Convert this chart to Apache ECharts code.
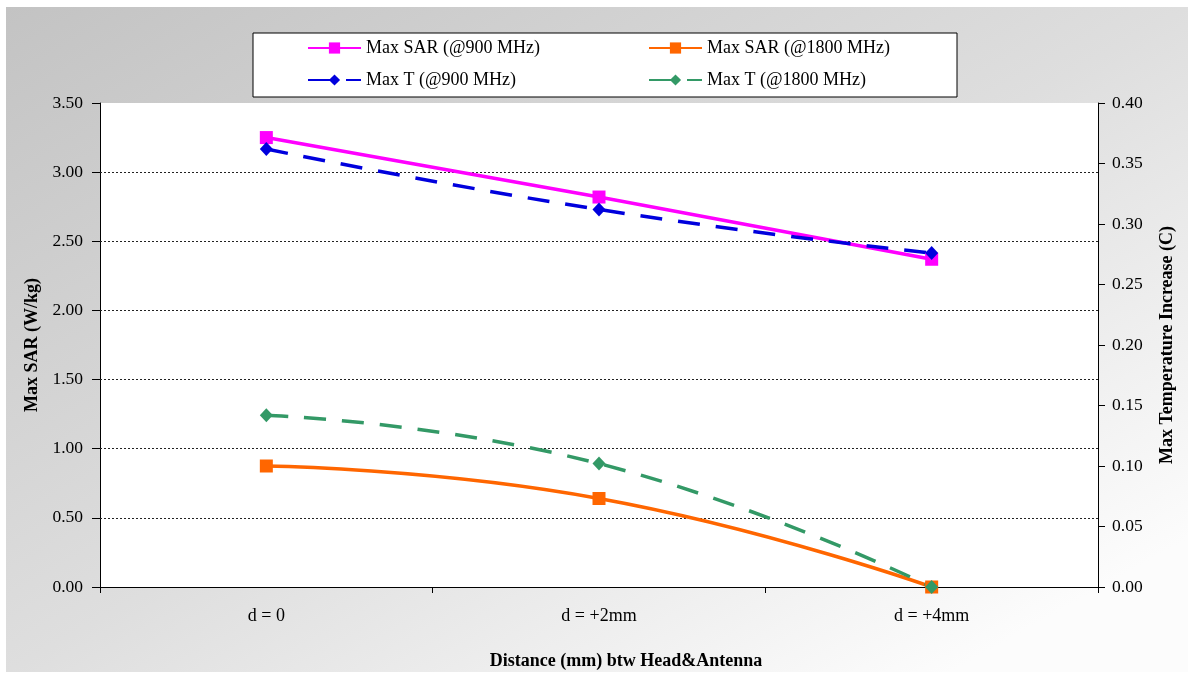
<!DOCTYPE html>
<html>
<head>
<meta charset="utf-8">
<script src="https://cdn.jsdelivr.net/npm/echarts@6/dist/echarts.min.js"></script>
<style>
  html, body { margin: 0; padding: 0; background: #ffffff; }
  #panel {
    position: absolute; left: 6px; top: 7px; width: 1182px; height: 665px;
    background: linear-gradient(to bottom right, #c3c3c3 0%, #dedede 50%, #fcfcfc 90%);
  }
  #chart { position: absolute; left: 0; top: 0; width: 1188px; height: 675px; }
</style>
</head>
<body>
<div id="panel"></div>
<div id="chart"></div>
<script>
// Distance between head and antenna
const categories = ['d = 0', 'd = +2mm', 'd = +4mm'];

// Peak SAR (W/kg)
const sar900 = [3.25, 2.82, 2.37];
const sar1800 = [0.875, 0.64, 0.0];

// Peak temperature rise (C)
const temp900 = [0.362, 0.312, 0.276];
const temp1800 = [0.142, 0.102, 0.0];

// Left-axis gridline levels
const sarGridLevels = [0.5, 1.0, 1.5, 2.0, 2.5, 3.0];

const FONT = 'Liberation Serif';

const chart = echarts.init(document.getElementById('chart'), null, { renderer: 'canvas' });

function lineSeries(name, data, color, axis, symbol, symbolSize, dashed) {
  return {
    name: name,
    type: 'line',
    yAxisIndex: axis,
    data: data,
    smooth: 0.5,
    symbol: symbol,
    symbolSize: symbolSize,
    showAllSymbol: true,
    itemStyle: { color: color },
    lineStyle: {
      color: color,
      width: 3.5,
      type: dashed ? [22, 16] : 'solid'
    },
    z: 3
  };
}

const series = [
  lineSeries('Max SAR (@900 MHz)', sar900, '#ff00ff', 0, 'rect', 13, false),
  lineSeries('Max SAR (@1800 MHz)', sar1800, '#ff6600', 0, 'rect', 13, false),
  lineSeries('Max T (@900 MHz)', temp900, '#0000dd', 1, 'diamond', [13, 14], true),
  lineSeries('Max T (@1800 MHz)', temp1800, '#339966', 1, 'diamond', [13, 14], true)
];

// dotted horizontal gridlines on the SAR scale
series[0].markLine = {
  silent: true,
  symbol: ['none', 'none'],
  label: { show: false },
  lineStyle: { color: '#222', width: 1, type: [2, 2] },
  emphasis: { disabled: true },
  data: sarGridLevels.map(v => ({ yAxis: v })),
  z: 1
};

const legendText = { fontFamily: FONT, fontSize: 18, color: '#000' };

const legendCommon = {
  orient: 'vertical',
  top: 39,
  padding: 0,
  itemWidth: 53, itemHeight: 14, itemGap: 14,
  textStyle: legendText
};

chart.setOption({
  backgroundColor: 'transparent',
  animation: false,
  graphic: [{
    type: 'rect',
    shape: { x: 253, y: 33, width: 704, height: 64 },
    style: { fill: '#ffffff', stroke: '#000000', lineWidth: 1 },
    z: -1
  }],
  legend: [
    Object.assign({ data: ['Max SAR (@900 MHz)', 'Max T (@900 MHz)'], left: 307 }, legendCommon),
    Object.assign({ data: ['Max SAR (@1800 MHz)', 'Max T (@1800 MHz)'], left: 648 }, legendCommon)
  ],
  grid: {
    left: 100, right: 90, top: 103, bottom: 88,
    show: true, backgroundColor: '#ffffff', borderWidth: 0
  },
  xAxis: {
    type: 'category',
    data: categories,
    boundaryGap: true,
    name: 'Distance (mm) btw Head&Antenna',
    nameLocation: 'middle',
    nameGap: 65,
    nameTextStyle: {
      fontFamily: FONT, fontSize: 18, fontWeight: 'bold', color: '#000',
      padding: [0, 0, 0, 54]
    },
    axisLine: { lineStyle: { color: '#000', width: 1 } },
    axisTick: { show: true, length: 6, lineStyle: { color: '#000' } },
    axisLabel: { fontFamily: FONT, fontSize: 18, color: '#000', margin: 20 },
    splitLine: { show: false }
  },
  yAxis: [
    {
      type: 'value',
      min: 0, max: 3.5, interval: 0.5,
      position: 'left',
      name: 'Max SAR (W/kg)',
      nameLocation: 'middle',
      nameGap: 59,
      nameRotate: 90,
      nameTextStyle: { fontFamily: FONT, fontSize: 18, fontWeight: 'bold', color: '#000' },
      axisLine: { show: true, lineStyle: { color: '#000', width: 1 } },
      axisTick: { show: true, length: 8, lineStyle: { color: '#000' } },
      axisLabel: {
        fontFamily: FONT, fontSize: 17.5, color: '#000', margin: 17,
        formatter: v => v.toFixed(2)
      },
      splitLine: { show: false }
    },
    {
      type: 'value',
      min: 0, max: 0.4, interval: 0.05,
      position: 'right',
      name: 'Max Temperature Increase (C)',
      nameLocation: 'middle',
      nameGap: 60,
      nameRotate: 90,
      nameTextStyle: { fontFamily: FONT, fontSize: 18, fontWeight: 'bold', color: '#000' },
      axisLine: { show: true, lineStyle: { color: '#000', width: 1 } },
      axisTick: { show: true, length: 7, lineStyle: { color: '#000' } },
      axisLabel: {
        fontFamily: FONT, fontSize: 17.5, color: '#000', margin: 14,
        formatter: v => v.toFixed(2)
      },
      splitLine: { show: false }
    }
  ],
  series: series
});
</script>
</body>
</html>
